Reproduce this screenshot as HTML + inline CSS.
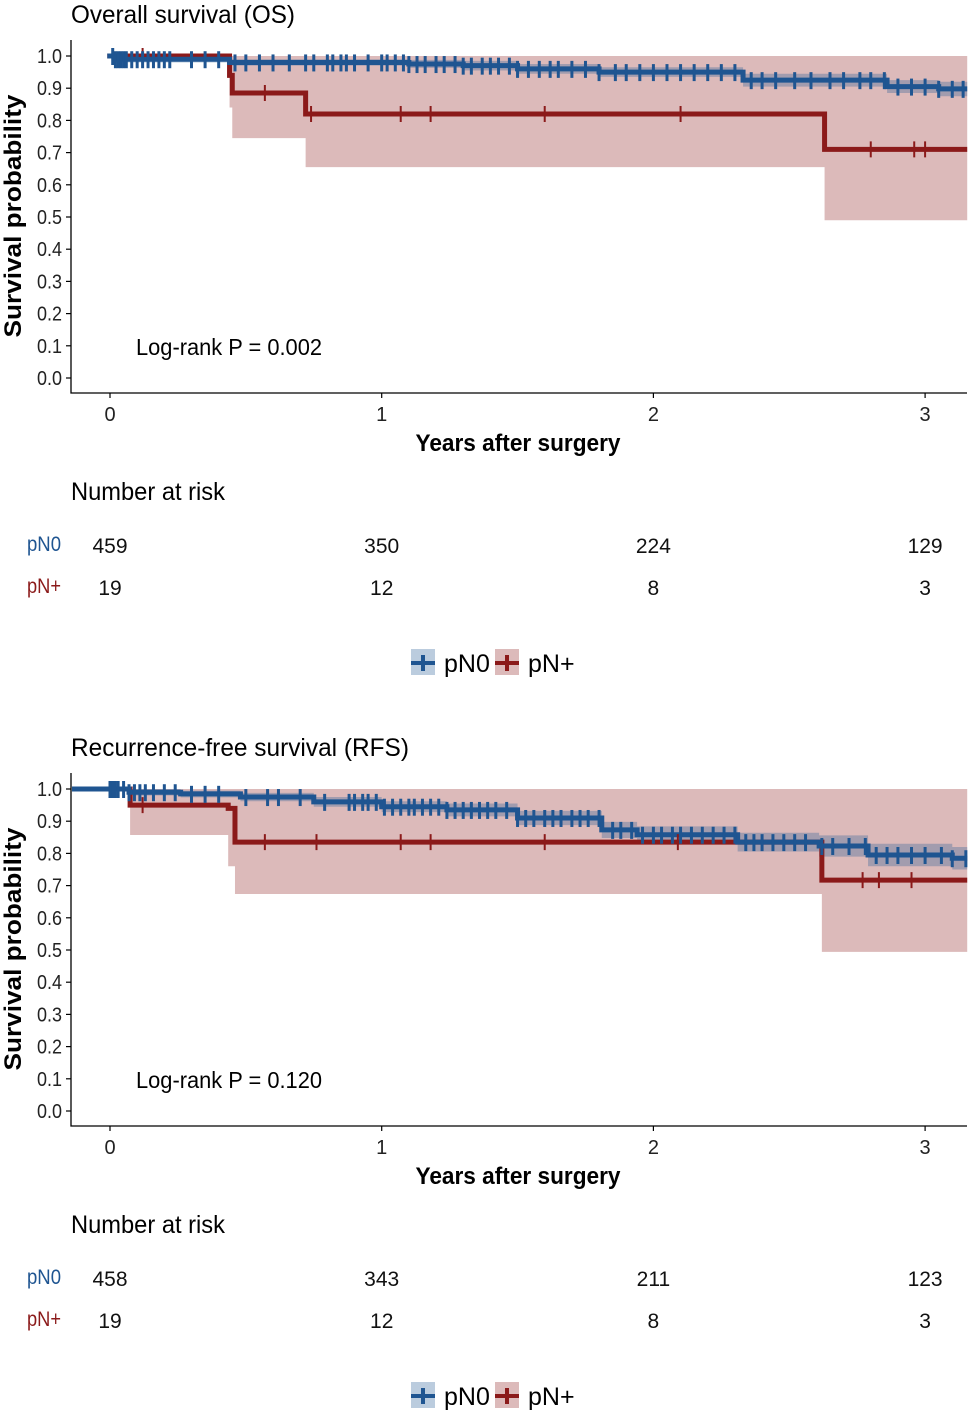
<!DOCTYPE html>
<html><head><meta charset="utf-8">
<style>
html,body{margin:0;padding:0;background:#fff;}
svg{display:block;font-family:"Liberation Sans",Arial,sans-serif;}
</style></head>
<body>
<svg id="fig" width="971" height="1416" viewBox="0 0 971 1416" xmlns="http://www.w3.org/2000/svg"></svg>
<script>
// ---------- data ----------
const xTicks = [0, 1, 2, 3];
const yTicks = [0, 0.1, 0.2, 0.3, 0.4, 0.5, 0.6, 0.7, 0.8, 0.9, 1.0];
const riskGroups = ["pN0", "pN+"];

// OS
const osN0Times = [-0.01, 0.02, 0.44, 1.1, 1.3, 1.5, 1.8, 2.33, 2.86, 3.05, 3.155];
const osN0Surv  = [1.0, 0.99, 0.98, 0.975, 0.97, 0.96, 0.95, 0.925, 0.905, 0.898, 0.898];
const osN0Lower = [1.0, 0.98, 0.97, 0.963, 0.955, 0.945, 0.935, 0.905, 0.885, 0.875, 0.875];
const osN0Upper = [1.0, 1.0, 0.99, 0.988, 0.985, 0.975, 0.965, 0.945, 0.925, 0.92, 0.92];
const osN0Cens = [0.01,0.02,0.03,0.04,0.05,0.06,0.08,0.1,0.12,0.14,0.16,0.18,0.2,0.22,0.3,0.35,0.4,0.46,0.5,0.55,0.6,0.66,0.72,0.75,0.8,0.82,0.85,0.87,0.9,0.95,1.0,1.02,1.05,1.08,1.1,1.13,1.16,1.2,1.23,1.27,1.3,1.33,1.37,1.4,1.43,1.47,1.5,1.54,1.58,1.62,1.65,1.7,1.75,1.8,1.86,1.9,1.95,2.0,2.05,2.1,2.15,2.2,2.25,2.3,2.36,2.4,2.45,2.52,2.58,2.65,2.7,2.76,2.8,2.85,2.9,2.95,3.0,3.05,3.1,3.14];
const osNpTimes = [-0.01, 0.44, 0.45, 0.72, 2.63, 3.155];
const osNpSurv  = [1.0, 0.94, 0.885, 0.82, 0.71, 0.71];
const osNpLower = [1.0, 0.84, 0.745, 0.655, 0.49, 0.49];
const osNpUpper = [1.0, 1.0, 1.0, 1.0, 1.0, 1.0];
const osNpCens = [0.12, 0.57, 0.74, 1.07, 1.18, 1.6, 2.1, 2.8, 2.96, 3.0];

// RFS
const rfsN0Times = [-0.14, 0.0, 0.07, 0.26, 0.48, 0.75, 1.0, 1.24, 1.5, 1.81, 1.94, 2.31, 2.61, 2.79, 3.1, 3.155];
const rfsN0Surv  = [1.0, 1.0, 0.99, 0.985, 0.975, 0.96, 0.945, 0.935, 0.91, 0.873, 0.858, 0.835, 0.823, 0.795, 0.785, 0.785];
const rfsN0Lower = [1.0, 1.0, 0.98, 0.974, 0.962, 0.945, 0.928, 0.915, 0.888, 0.848, 0.832, 0.806, 0.79, 0.76, 0.75, 0.75];
const rfsN0Upper = [1.0, 1.0, 1.0, 0.995, 0.988, 0.975, 0.962, 0.955, 0.932, 0.898, 0.884, 0.864, 0.856, 0.83, 0.82, 0.82];
const rfsN0Cens = [0.0,0.01,0.02,0.03,0.05,0.07,0.09,0.11,0.13,0.16,0.2,0.24,0.3,0.35,0.4,0.5,0.58,0.62,0.7,0.79,0.88,0.9,0.93,0.95,0.98,1.01,1.04,1.07,1.1,1.12,1.15,1.18,1.21,1.24,1.27,1.3,1.33,1.36,1.39,1.42,1.46,1.5,1.53,1.56,1.6,1.63,1.66,1.7,1.73,1.76,1.8,1.85,1.88,1.92,1.96,2.0,2.03,2.07,2.1,2.14,2.18,2.22,2.26,2.3,2.34,2.37,2.4,2.44,2.48,2.52,2.56,2.62,2.66,2.72,2.78,2.82,2.86,2.9,2.95,3.0,3.06,3.1,3.15];
const rfsNpTimes = [-0.01, 0.074, 0.435, 0.46, 2.62, 3.155];
const rfsNpSurv  = [1.0, 0.95, 0.94, 0.835, 0.717, 0.717];
const rfsNpLower = [1.0, 0.857, 0.76, 0.674, 0.494, 0.494];
const rfsNpUpper = [1.0, 1.0, 1.0, 1.0, 1.0, 1.0];
const rfsNpCens = [0.12, 0.57, 0.76, 1.07, 1.18, 1.6, 2.09, 2.77, 2.83, 2.95];

const osRiskN0 = [459, 350, 224, 129];
const osRiskNp = [19, 12, 8, 3];
const rfsRiskN0 = [458, 343, 211, 123];
const rfsRiskNp = [19, 12, 8, 3];

// ---------- drawing ----------
const NS = "http://www.w3.org/2000/svg";
const svg = document.getElementById("fig");
const BLUE = "#1f5591", RED = "#8b1a1a";
function mk(tag, attrs, parent) {
  const e = document.createElementNS(NS, tag);
  for (const k in attrs) e.setAttribute(k, attrs[k]);
  (parent || svg).appendChild(e);
  return e;
}
function txt(str, attrs, parent) { const t = mk("text", attrs, parent); t.textContent = str; return t; }
const X0 = 110, XS = 271.7, XMAX = 967, XMIN = 71;
function xs(t) { return X0 + t * XS; }

function stepPath(times, vals, ys) {
  let d = "M" + xs(times[0]) + "," + ys(vals[0]);
  for (let i = 1; i < times.length; i++) {
    d += " H" + xs(times[i]) + " V" + ys(vals[i]);
  }
  return d;
}
function bandPath(times, lo, hi, ys) {
  let d = "M" + xs(times[0]) + "," + ys(hi[0]);
  for (let i = 1; i < times.length; i++) d += " H" + xs(times[i]) + " V" + ys(hi[i]);
  d += " V" + ys(lo[times.length - 1]);
  for (let i = times.length - 1; i >= 1; i--) d += " H" + xs(times[i]) + " V" + ys(lo[i - 1]);
  d += " H" + xs(times[0]) + " Z";
  return d;
}
function survAt(times, vals, t) {
  let v = vals[0];
  for (let i = 0; i < times.length; i++) if (times[i] <= t) v = vals[i];
  return v;
}

function panel(off, title, name, n0, np, risk0, riskp, pval) {
  const top = 56 + off;
  const ys = s => top + (1 - s) * 322;
  const g = mk("g", {});
  
  
  const tt = txt(title, {x: 71, y: 23 + off, "font-size": 25, fill: "#000", textLength: title.length > 25 ? 338 : 224, lengthAdjust: "spacingAndGlyphs"}, g);
  
  

  const b1 = mk("path", {d: bandPath(np.t, np.lo, np.hi, ys), fill: RED, "fill-opacity": 0.3}, g);
  
  
  const b0 = mk("path", {d: bandPath(n0.t, n0.lo, n0.hi, ys), fill: BLUE, "fill-opacity": 0.3}, g);
  
  

  const c1 = mk("path", {d: stepPath(np.t, np.s, ys), fill: "none", stroke: RED, "stroke-width": 5}, g);
  
  
  const c0 = mk("path", {d: stepPath(n0.t, n0.s, ys), fill: "none", stroke: BLUE, "stroke-width": 5}, g);
  
  
  np.c.forEach(t => {
    const y = ys(survAt(np.t, np.s, t));
    const m = mk("path", {d: `M${xs(t)},${y-8}V${y+8}M${xs(t)-4},${y}H${xs(t)+4}`, stroke: RED, "stroke-width": 2}, g);
    
    
  });
  n0.c.forEach(t => {
    const y = ys(survAt(n0.t, n0.s, t));
    const m = mk("path", {d: `M${xs(t)},${y-8}V${y+9}`, stroke: BLUE, "stroke-width": 3}, g);
    
    
  });

  const ax = mk("path", {d: `M${XMIN},${top-16}V${top+337}H${XMAX}`, fill: "none", stroke: "#000", "stroke-width": 1.3}, g);
  
  
  yTicks.forEach(v => {
    const y = ys(v);
    mk("line", {x1: XMIN - 5, x2: XMIN, y1: y, y2: y, stroke: "#000", "stroke-width": 1.2}, g);
    const l = txt(v.toFixed(1), {x: 62, y: y + 7, "font-size": 20, "text-anchor": "end", fill: "#222", textLength: 25, lengthAdjust: "spacingAndGlyphs"}, g);
    
    
  });
  xTicks.forEach(v => {
    const x = xs(v);
    mk("line", {x1: x, x2: x, y1: top + 337, y2: top + 342, stroke: "#000", "stroke-width": 1.2}, g);
    const l = txt(String(v), {x: x, y: top + 365, "font-size": 20, "text-anchor": "middle", fill: "#222"}, g);
    
    
  });
  const yt = txt("Survival probability", {x: 0, y: 0, "font-size": 24, "font-weight": "bold", "text-anchor": "middle", textLength: 243, lengthAdjust: "spacingAndGlyphs", transform: `translate(21,${top+160}) rotate(-90)`}, g);
  
  
  const xt = txt("Years after surgery", {x: 518, y: top + 395, "font-size": 24, "font-weight": "bold", "text-anchor": "middle", textLength: 205, lengthAdjust: "spacingAndGlyphs"}, g);
  
  
  const pv = txt(pval, {x: 136, y: top + 299, "font-size": 23, textLength: 186, lengthAdjust: "spacingAndGlyphs"}, g);
  
  

  const rt = txt("Number at risk", {x: 71, y: top + 444, "font-size": 25, textLength: 154, lengthAdjust: "spacingAndGlyphs"}, g);
  
  
  const rows = [risk0, riskp], cols = [BLUE, RED];
  rows.forEach((row, r) => {
    const y = top + 495 + r * 42;
    const lab = txt(riskGroups[r], {x: 27, y: y, "font-size": 21, fill: cols[r], textLength: 34, lengthAdjust: "spacingAndGlyphs"}, g);
    
    
    row.forEach((v, i) => {
      const c = txt(String(v), {x: xs(xTicks[i]), y: y + 2, "font-size": 21, "text-anchor": "middle", fill: "#111"}, g);
      
      
    });
  });

  const ly = top + 607;
  const items = [["pN0", BLUE, 411], ["pN+", RED, 495]];
  items.forEach(([lbl, col, x]) => {
    const lg = mk("g", {}, g);
    
    
    mk("rect", {x: x, y: ly - 14, width: 24, height: 26, fill: col, "fill-opacity": 0.3}, lg);
    mk("path", {d: `M${x},${ly}H${x+24}M${x+12},${ly-8}V${ly+8}`, stroke: col, "stroke-width": 4}, lg);
    txt(lbl, {x: x + 33, y: ly + 9, "font-size": 25}, lg);
  });
}

panel(0, "Overall survival (OS)", "os",
  {t: osN0Times, s: osN0Surv, lo: osN0Lower, hi: osN0Upper, c: osN0Cens},
  {t: osNpTimes, s: osNpSurv, lo: osNpLower, hi: osNpUpper, c: osNpCens},
  osRiskN0, osRiskNp, "Log-rank P = 0.002");
panel(733, "Recurrence-free survival (RFS)", "rfs",
  {t: rfsN0Times, s: rfsN0Surv, lo: rfsN0Lower, hi: rfsN0Upper, c: rfsN0Cens},
  {t: rfsNpTimes, s: rfsNpSurv, lo: rfsNpLower, hi: rfsNpUpper, c: rfsNpCens},
  rfsRiskN0, rfsRiskNp, "Log-rank P = 0.120");
</script>
</body></html>
